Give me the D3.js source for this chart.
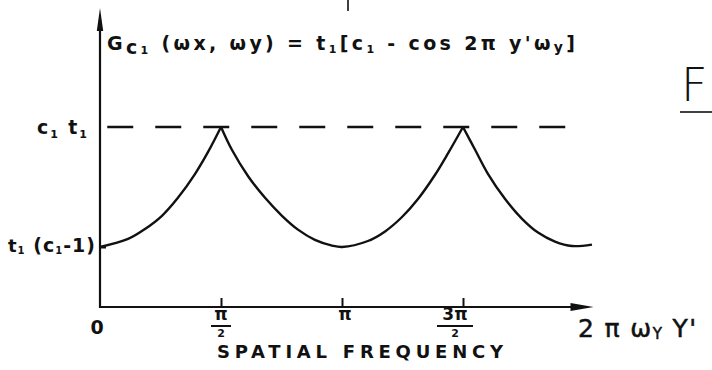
<!DOCTYPE html>
<html>
<head>
<meta charset="utf-8">
<script src="https://cdn.jsdelivr.net/npm/d3@7"></script>
<style>
  html, body { margin: 0; padding: 0; background: #fff; }
  svg { display: block; }
  text { font-family: "DejaVu Sans", sans-serif; fill: #111; }
</style>
</head>
<body>
<svg id="chart" width="712" height="370"></svg>
<script>
// Spatial frequency, in multiples of pi
const freq = [0, 0.116, 0.186, 0.256, 0.322, 0.393, 0.446, 0.5,
              0.545, 0.612, 0.682, 0.752, 0.818, 0.888, 0.959, 1.0,
              1.107, 1.178, 1.248, 1.314, 1.384, 1.438, 1.5,
              1.55, 1.603, 1.674, 1.744, 1.81, 1.88, 1.95, 2.033];
// Filter response, normalised: 0 = t1(c1-1), 1 = c1 t1
const response = [0, 0.067, 0.15, 0.26, 0.41, 0.61, 0.79, 1.0,
                  0.81, 0.59, 0.41, 0.26, 0.145, 0.06, 0.012, 0,
                  0.05, 0.13, 0.25, 0.4, 0.6, 0.78, 1.0,
                  0.81, 0.61, 0.4, 0.235, 0.12, 0.045, 0.008, 0.02];
// Tick positions and their fraction labels
const tickValues = [0.5, 1, 1.5];
const tickNumerators = ["π", "π", "3π"];
const tickDenominators = ["2", "", "2"];
// Reference levels on the vertical axis
const levelValues = [1, 0];

const svg = d3.select("#chart");
const x = d3.scaleLinear().domain([0, 2]).range([100, 584]);
const y = d3.scaleLinear().domain([0, 1]).range([247, 127]);
const axisY = y(-0.5);   // horizontal axis sits below the minimum

const ink = "#111";

// dashed maximum level
svg.append("line")
  .attr("x1", x(0.03)).attr("x2", x(1.96))
  .attr("y1", y(levelValues[0])).attr("y2", y(levelValues[0]))
  .attr("stroke", ink).attr("stroke-width", 2.4)
  .attr("stroke-dasharray", "26,22");

// vertical axis with arrow
svg.append("line")
  .attr("x1", x(0)).attr("x2", x(0))
  .attr("y1", axisY + 1).attr("y2", 20)
  .attr("stroke", ink).attr("stroke-width", 2.2);
svg.append("path")
  .attr("d", `M${x(0)},8 L${x(0) + 3.2},31 L${x(0) - 3.2},31 Z`)
  .attr("fill", ink);

// horizontal axis with arrow
const axisEnd = x(2.035);
svg.append("line")
  .attr("x1", x(0)).attr("x2", axisEnd - 10)
  .attr("y1", axisY).attr("y2", axisY)
  .attr("stroke", ink).attr("stroke-width", 2.2);
svg.append("path")
  .attr("d", `M${axisEnd + 1},${axisY} L${axisEnd - 22},${axisY - 4} L${axisEnd - 22},${axisY + 4} Z`)
  .attr("fill", ink);

// tick marks on the frequency axis
const xAxis = d3.axisBottom(x)
  .tickValues(tickValues)
  .tickSize(-9)
  .tickSizeOuter(0)
  .tickFormat("");
const gx = svg.append("g").attr("transform", `translate(0,${axisY})`).call(xAxis);
gx.select(".domain").remove();
gx.selectAll(".tick line").attr("stroke", ink).attr("stroke-width", 2);

// small tick at the minimum level
const yAxis = d3.axisRight(y).tickValues([levelValues[1]]).tickSize(6).tickFormat("");
const gy = svg.append("g").attr("transform", `translate(${x(0)},0)`).call(yAxis);
gy.select(".domain").remove();
gy.selectAll(".tick line").attr("stroke", ink).attr("stroke-width", 2);

// response curve, drawn as arches between the cusps
const pts = freq.map((f, i) => ({ f, r: response[i] }));
const cusps = pts.map((p, i) => p.r === 1 ? i : -1).filter(i => i >= 0);
const breaks = [0, ...cusps, pts.length - 1];
const line = d3.line().x(d => x(d.f)).y(d => y(d.r)).curve(d3.curveCatmullRom.alpha(0.5));
for (let k = 0; k < breaks.length - 1; k++) {
  svg.append("path")
    .datum(pts.slice(breaks[k], breaks[k + 1] + 1))
    .attr("d", line)
    .attr("fill", "none")
    .attr("stroke", ink)
    .attr("stroke-width", 2.4)
    .attr("stroke-linejoin", "miter");
}

// helper: text with shifted parts, parts = [[string, size, shift], ...]
function rich(sel, parts) {
  let cur = 0;
  parts.forEach(([s, size, shift]) => {
    sel.append("tspan")
      .attr("font-size", size)
      .attr("dy", shift - cur)
      .text(s);
    cur = shift;
  });
  return sel;
}

// formula
const formula = svg.append("text")
  .attr("x", 107).attr("y", 50)
  .attr("font-weight", "bold")
  .attr("textLength", 468).attr("lengthAdjust", "spacing");
rich(formula, [["G", 19, 0], ["c", 19, 4], ["1", 11, 4], [" (ωx, ωy) = t", 19, 0], ["1", 11, 3],
               ["[c", 19, 0], ["1", 11, 3], [" - cos  2π y'ω", 19, 0], ["y", 14, 2], ["]", 19, 0]]);

// level labels
const topLabel = svg.append("text")
  .attr("x", 37).attr("y", 134)
  .attr("font-weight", "bold")
  .attr("textLength", 50).attr("lengthAdjust", "spacing");
rich(topLabel, [["c", 19, 0], ["1", 11, 4], [" t", 19, 0], ["1", 11, 4]]);

const lowLabel = svg.append("text")
  .attr("x", 8).attr("y", 252)
  .attr("font-weight", "bold")
  .attr("textLength", 87).attr("lengthAdjust", "spacing");
rich(lowLabel, [["t", 18, 0], ["1", 10, 2], [" (c", 19, 0], ["1", 10, 2], ["-1)", 19, 0]]);

// frequency tick labels as fractions
const labelOffsets = [0, 3, -8];
tickValues.forEach((v, i) => {
  const cx = x(v) + labelOffsets[i];
  svg.append("text")
    .attr("x", cx).attr("y", 320)
    .attr("text-anchor", "middle")
    .attr("font-size", 17).attr("font-weight", "bold")
    .text(tickNumerators[i]);
  if (tickDenominators[i]) {
    const w = tickNumerators[i].length > 1 ? 18 : 10;
    svg.append("line")
      .attr("x1", cx - w).attr("x2", cx + w)
      .attr("y1", 326).attr("y2", 326)
      .attr("stroke", ink).attr("stroke-width", 2);
    svg.append("text")
      .attr("x", cx).attr("y", 337)
      .attr("text-anchor", "middle")
      .attr("font-size", 11).attr("font-weight", "bold")
      .text(tickDenominators[i]);
  }
});

svg.append("text")
  .attr("x", x(0) - 3).attr("y", 334)
  .attr("text-anchor", "middle")
  .attr("font-size", 19).attr("font-weight", "bold")
  .text("0");

svg.append("text")
  .attr("x", 217).attr("y", 358)
  .attr("font-size", 18).attr("font-weight", "bold")
  .attr("textLength", 286).attr("lengthAdjust", "spacing")
  .text("SPATIAL FREQUENCY");

const axisName = svg.append("text")
  .attr("x", 578).attr("y", 337)
  .attr("stroke", ink).attr("stroke-width", 0.5)
  .attr("textLength", 118).attr("lengthAdjust", "spacing");
rich(axisName, [["2 π ω", 25, 0], ["Y", 15, 2], [" Y'", 25, 0]]);

// figure marker at the right edge
svg.append("text")
  .attr("x", 681).attr("y", 101)
  .attr("font-family", "Inter, 'DejaVu Sans', sans-serif")
  .attr("font-weight", 200)
  .attr("font-size", 46)
  .text("F");
svg.append("line")
  .attr("x1", 680).attr("x2", 712)
  .attr("y1", 112).attr("y2", 112)
  .attr("stroke", ink).attr("stroke-width", 1.6);

// small stroke at the top edge
svg.append("line")
  .attr("x1", 348).attr("x2", 348)
  .attr("y1", 0).attr("y2", 11)
  .attr("stroke", ink).attr("stroke-width", 1.6);
</script>
</body>
</html>
